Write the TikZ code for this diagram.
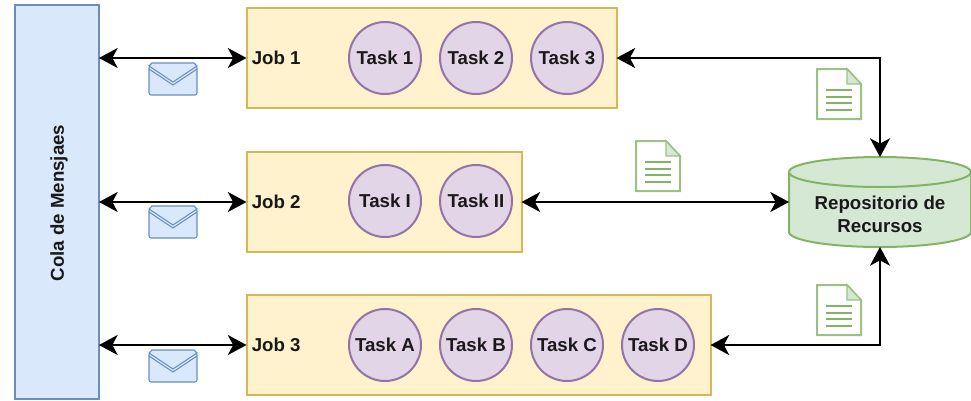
\documentclass[tikz,border=0pt]{standalone}
\usepackage{xcolor}
\usepackage{fontspec}
\setmainfont{Liberation Sans}
\usepackage{tikz}
\usetikzlibrary{arrows.meta}
\definecolor{BlueFill}{HTML}{DAE8FC}
\definecolor{BlueLine}{HTML}{6C8EBF}
\definecolor{JobFill}{HTML}{FFF2CC}
\definecolor{JobLine}{HTML}{D6B656}
\definecolor{TaskFill}{HTML}{E1D5E7}
\definecolor{TaskLine}{HTML}{9673A6}
\definecolor{RepoFill}{HTML}{D5E8D4}
\definecolor{RepoLine}{HTML}{82B366}
\tikzset{
    Label/.style = {font=\fontsize{14}{17}\selectfont\bfseries,text=black!90},
    Cola/.style = {draw=BlueLine,fill=BlueFill,line width=1.6pt,inner sep=0pt,outer sep=0pt,
        minimum width=63pt,minimum height=295.5pt},
    Job/.style = {draw=JobLine,fill=JobFill,line width=1.5pt,inner sep=0pt,outer sep=0pt,
        minimum height=75pt,anchor=west},
    Task/.style = {circle,draw=TaskLine,fill=TaskFill,line width=1.5pt,inner sep=0pt,
        minimum size=54pt,Label},
    Repo/.style = {inner sep=0pt,outer sep=0pt,minimum width=136.5pt,minimum height=67.5pt},
    RepoEnd/.style = {x radius=68.25pt,y radius=11.25pt},
    Link/.style = {line width=2pt,{Stealth[length=14pt,width=15pt,inset=4pt]}-{Stealth[length=14pt,width=15pt,inset=4pt]}},
    Envelope/.pic = {
        \draw[BlueLine,fill=BlueFill,line width=0.8pt,rounded corners=1.5pt]
            (-24,-13) rectangle (24,16);
        \draw[BlueLine,fill=BlueFill,line width=0.8pt]
            (-21,-16) -- (21,-16) -- (24,-13) -- (0,3) -- (-24,-13) -- cycle;
        \draw[BlueLine,line width=0.8pt] (-24,-10) -- (0,6) -- (24,-10);
    },
    Document/.pic = {
        \draw[RepoLine!80,fill=white,line width=1.5pt]
            (-22,-25) -- (8,-25) -- (22,-10) -- (22,25) -- (-22,25) -- cycle;
        \draw[RepoLine!80,fill=RepoFill,line width=1pt] (8,-25) -- (8,-10) -- (22,-10) -- cycle;
        \foreach \Y in {-4,3,9,16}
            {\draw[RepoLine,line width=1.8pt] (-13,\Y) -- (13,\Y);}
    }
}
\begin{document}
\begin{tikzpicture}[x=0.75pt,y=-0.75pt]
    \useasboundingbox (0,0) rectangle (971,400);
    \node[Cola] (cola) at (57,202) {};
    \node[Label,rotate=90,inner sep=0pt] (colaname) at (59,203) {Cola de Mensjaes};
    % jobs
    \node[Job,minimum width=277.5pt] (job1) at (246.5,58) {};
    \node[Job,minimum width=206.25pt] (job2) at (246.5,202) {};
    \node[Job,minimum width=348pt] (job3) at (246.5,345) {};
    \foreach \X in {1,2,3}
        {\node[Label,anchor=west,inner sep=0pt] (name\X) at ([xshift=3.75pt]job\X.west) {Job \X};}
    % tasks
    \foreach \X/\Y/\T in {385/58/1,476/58/2,567/58/3,385/201/I,476/201/II,385/345/A,476/345/B,567/345/C,658/345/D}
        {\node[Task] (task\T) at (\X,\Y) {Task \T};}
    % repository
    \node[Repo] (repo) at (880,202) {};
    \draw[draw=RepoLine,fill=RepoFill,line width=1.5pt] (789,172) -- (789,232)
        arc[start angle=180,end angle=360,RepoEnd] -- (971,172)
        arc[start angle=0,end angle=180,RepoEnd] -- cycle;
    \draw[draw=RepoLine,line width=1.5pt] (789,172) arc[start angle=180,end angle=360,RepoEnd];
    \node[align=center,Label,inner sep=0pt] (reponame) at (880,214) {Repositorio de\\Recursos};
    % links
    \foreach \X in {1,2,3}
        {\draw[Link] (cola.east |- job\X.west) -- (job\X.west);}
    \draw[Link] (job1.east) -| (repo.north);
    \draw[Link] (job2.east) -- (repo.west);
    \draw[Link] (job3.east) -| (repo.south);
    % icons
    \foreach \Y in {79,222,366}
        {\pic at (173,\Y) {Envelope};}
    \pic at (839,94) {Document};
    \pic at (658,166) {Document};
    \pic at (839,310) {Document};
\end{tikzpicture}
\end{document}
